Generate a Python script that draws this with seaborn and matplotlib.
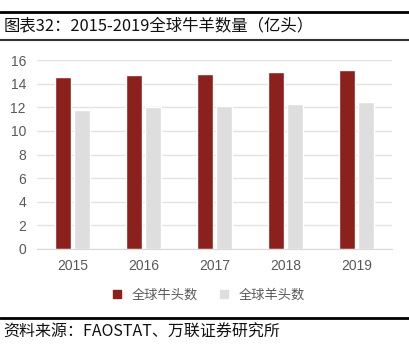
import matplotlib.pyplot as plt
import matplotlib.lines as mlines
import numpy as np
import pandas as pd
import seaborn as sns

years = ['2015', '2016', '2017', '2018', '2019']
cattle = [14.55, 14.75, 14.85, 15.0, 15.15]
sheep = [11.8, 12.0, 12.1, 12.25, 12.45]
series_names = ['全球牛头数', '全球羊头数']

df = pd.DataFrame({'year': years * 2,
                   'value': cattle + sheep,
                   'kind': [series_names[0]] * 5 + [series_names[1]] * 5})

sns.set_style('white')
plt.rcParams['font.family'] = ['Noto Sans CJK SC', 'DejaVu Sans']

fig = plt.figure(figsize=(4.09, 3.52), dpi=100)
ax = fig.add_axes([37 / 409, 1 - 249 / 352, 355 / 409, 189 / 352])

palette = {series_names[0]: '#8c201c', series_names[1]: '#dedede'}
sns.barplot(data=df, x='year', y='value', hue='kind', palette=palette,
            width=0.52, gap=0.13, ax=ax, legend=False, saturation=1)

ax.set_ylim(0, 16)
ax.set_yticks(range(0, 17, 2))
ax.yaxis.grid(True, color='#e3e3e3', linewidth=1)
ax.set_axisbelow(True)
for s in ['top', 'right', 'left']:
    ax.spines[s].set_visible(False)
ax.spines['bottom'].set_color('#d9d9d9')
ax.set_xlabel('')
ax.set_ylabel('')
ax.tick_params(axis='both', length=0, labelsize=10, colors='#595959')
ax.tick_params(axis='x', pad=7)
ax.tick_params(axis='y', pad=8)
for lab in ax.get_xticklabels() + ax.get_yticklabels():
    lab.set_family(['Liberation Sans', 'DejaVu Sans'])

# legend
handles = [mlines.Line2D([], [], marker='s', linestyle='', markersize=6,
                         color=palette[n]) for n in series_names]
fig.legend(handles, series_names, loc='center', bbox_to_anchor=(0.5, 1 - 295 / 352),
           ncol=2, frameon=False, fontsize=9.5, labelcolor='#595959',
           handletextpad=0.1, columnspacing=1.0)

# header / footer
fig.add_artist(mlines.Line2D([0, 1], [1 - 12 / 352] * 2, color='black', linewidth=2))
fig.add_artist(mlines.Line2D([0, 1], [1 - 40 / 352] * 2, color='#333333', linewidth=1.5))
fig.add_artist(mlines.Line2D([0, 1], [1 - 318 / 352] * 2, color='black', linewidth=2))
fig.text(0.008, 1 - 26 / 352, '图表32：2015-2019全球牛羊数量（亿头）', fontsize=11.8,
         va='center', ha='left', color='#111111')
fig.text(0.008, 1 - 332 / 352, '资料来源：FAOSTAT、万联证券研究所', fontsize=11.5,
         va='center', ha='left', color='#111111', style='italic')

fig.savefig('out.png', dpi=100)
